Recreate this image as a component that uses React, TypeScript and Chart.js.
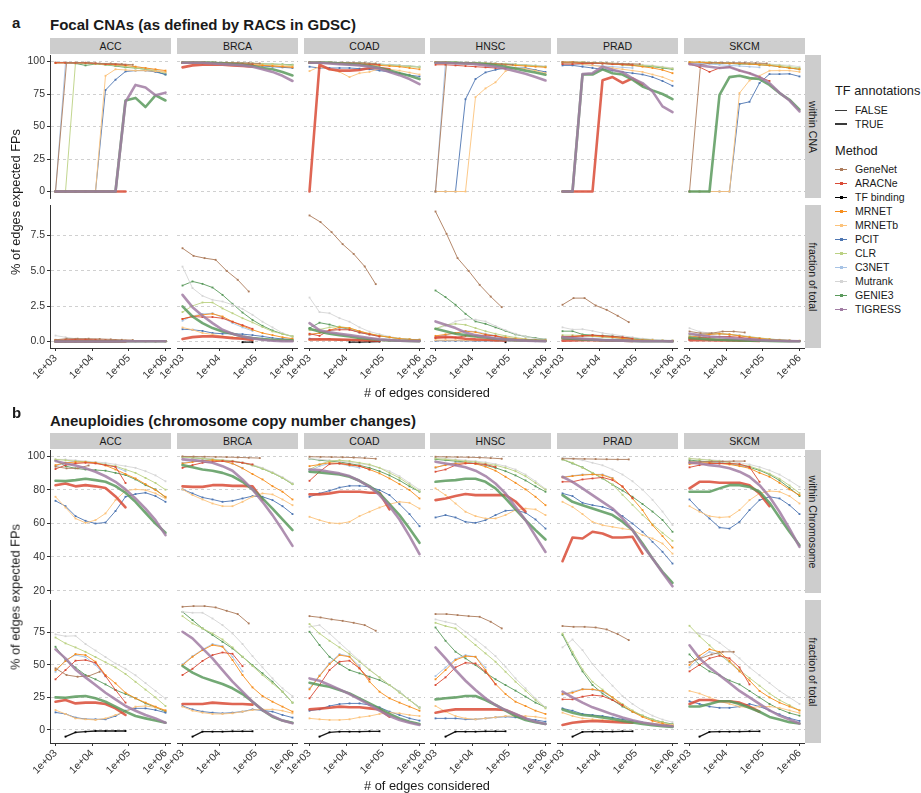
import React, { useEffect, useRef } from 'react';
import { Chart, registerables } from 'chart.js';
Chart.register(...registerables);

type Series = [string, number, (number | null)[]];

// ---------------- data ----------------
const XS = [1000, 1874, 3511, 6579, 12328, 23101, 43288, 81113, 151991, 284804, 533670, 1000000];
const XS_GENENET = [1000, 2000, 4000, 8000, 16000, 32000, 64000, 128000];
const X_TICKS = [1e3, 1e4, 1e5, 1e6];
const CANCERS = ['ACC', 'BRCA', 'COAD', 'HNSC', 'PRAD', 'SKCM'];
const METHODS = ['GeneNet', 'ARACNe', 'TF binding', 'MRNET', 'MRNETb', 'PCIT', 'CLR', 'C3NET', 'Mutrank', 'GENIE3', 'TIGRESS'];
const METHOD_COLORS = ['#AD7C5C', '#D94B36', '#000000', '#F68E1E', '#FCC37C', '#4E76B2', '#BBD183', '#A7C3E5', '#D5D5D5', '#5B9A5D', '#A17CA3'];
const TF_LEVELS = ['FALSE', 'TRUE'];

const A_TICKS_TOP = [0, 25, 50, 75, 100];
const A_TICKS_BOT = [0, 2.5, 5, 7.5];
const B_TICKS_TOP = [20, 40, 60, 80, 100];
const B_TICKS_BOT = [0, 25, 50, 75];

// Panel a, within CNA
const A_TOP_ACC: Series[] = [
  ['TIGRESS', 1, [0, 0, 0, 0, 0, 0, 0, 69, 82, 80, 74, 76]],
  ['GENIE3', 1, [0, 0, 0, 0, 0, 0, 0, 70, 72, 65, 74, 70]],
  ['ARACNe', 1, [0, 0, 0, 0, 0, 0, 0, 0]],
  ['GeneNet', 0, [0, 99, 99, 99, 98.5, 98.5, 98, 97.5]],
  ['ARACNe', 0, [99, 99, 99, 99, 98.5, 98, 98, 97.5]],
  ['MRNET', 0, [99, 99, 99, 99, 98.5, 98, 97.5, 97, 96, 95, 94, 93]],
  ['MRNETb', 0, [0, 0, 0, 0, 0, 89, 94, 93.5, 93, 93, 92.5, 92]],
  ['PCIT', 0, [0, 0, 0, 0, 0, 78, 86, 92.3, 93, 93, 92, 90]],
  ['CLR', 0, [0, 0, 99, 98.5, 98, 97.5, 97, 96, 95, 94, 93, 91]],
  ['C3NET', 0, [0, 99, 99, 99, 98.5, 98, 97, 96.5]],
  ['Mutrank', 0, [99.5, 99.5, 99, 99, 98.5, 98, 97.5, 97, 96, 95, 93.5, 92]],
  ['GENIE3', 0, [99, 99, 98.5, 97, 98, 97.5, 96.5, 95.5, 95, 94, 92.5, 90]],
];
const A_TOP_BRCA: Series[] = [
  ['TIGRESS', 1, [99, 99, 99, 98.5, 98, 97.5, 97, 96, 94, 92, 89, 85]],
  ['GENIE3', 1, [99, 99, 99, 99, 98.5, 98, 97.5, 96.5, 95, 94, 92, 89.3]],
  ['ARACNe', 1, [95.5, 97, 97.5, 97.5, 97.5, 97, 96.5, 96]],
  ['GeneNet', 0, [99.5, 99.5, 99.5, 99.3, 99.2, 99, 98.8, 98.5]],
  ['ARACNe', 0, [99, 99, 99, 99, 98.5, 98.5, 98, 98]],
  ['MRNET', 0, [99, 99, 99, 99, 98.5, 98.5, 98, 97.5, 97, 96.5, 96, 95.5]],
  ['MRNETb', 0, [99, 99, 99, 98.5, 98.5, 98, 98, 97.5, 97, 97, 96.5, 96]],
  ['PCIT', 0, [99, 99, 98.5, 98.5, 98, 98, 97.5, 97, 96.5, 96, 95.5, 95]],
  ['CLR', 0, [99.5, 99.5, 99.5, 99, 99, 99, 98.5, 98.5, 98, 98, 97.5, 97]],
  ['C3NET', 0, [99, 99, 99, 98.5, 98.5, 98, 98, 97.5]],
  ['Mutrank', 0, [99.5, 99.5, 99.5, 99, 99, 99, 98.5, 98.5, 98, 98, 97.5, 97]],
  ['GENIE3', 0, [99.5, 99.5, 99.5, 99.3, 99, 99, 98.8, 98.5, 98.2, 98, 97.8, 97.5]],
];
const A_TOP_COAD: Series[] = [
  ['TIGRESS', 1, [99, 99, 98.5, 98, 97.5, 97, 96, 94.5, 92, 89.5, 86.5, 82.6]],
  ['GENIE3', 1, [99, 99, 99, 98.5, 98, 97.5, 96.5, 95, 93, 91, 89, 86.5]],
  ['ARACNe', 1, [0, 97.5, 94, 93, 93, 93.5, 95, 95, 94]],
  ['GeneNet', 0, [99.5, 99.5, 99.3, 99.2, 99, 98.8, 98.5]],
  ['ARACNe', 0, [99, 99, 99, 98.5, 98.5, 98, 98, 97.5]],
  ['MRNET', 0, [99, 99, 99, 98.5, 98.5, 98, 97.5, 97, 96.5, 96, 95, 94]],
  ['MRNETb', 0, [92.6, 96, 94, 92, 88, 91, 92, 94.5, 94, 93, 91.5, 90]],
  ['PCIT', 0, [96, 95, 95, 95, 95, 94.5, 94, 93, 92, 91, 89.5, 88.5]],
  ['CLR', 0, [99.5, 99.5, 99, 99, 98.5, 98.5, 98, 97.5, 97, 96.5, 96, 95.5]],
  ['C3NET', 0, [99, 99, 99, 98.5, 98, 97.5, 97, 96.5]],
  ['Mutrank', 0, [99.5, 99.5, 99.5, 99, 99, 98.5, 98.5, 98, 97.5, 97, 96.5, 96]],
  ['GENIE3', 0, [99.5, 99.5, 99.5, 99, 99, 99, 98.5, 98, 97.5, 97, 96.5, 96]],
];
const A_TOP_HNSC: Series[] = [
  ['TIGRESS', 1, [99, 99, 98.5, 98.5, 98, 97, 96, 94.5, 92.5, 90.5, 88, 85.4]],
  ['GENIE3', 1, [99, 99, 99, 98.5, 98.5, 98, 97, 96, 94.5, 93, 91.5, 89.8]],
  ['GeneNet', 0, [0, 99, 99, 99, 98.5, 98.5, 98, 97.5]],
  ['ARACNe', 0, [97.5, 97.5, 97, 96.5, 96, 95.5, 95, 94.5]],
  ['MRNET', 0, [99.5, 99.5, 99, 99, 98.5, 98.5, 98, 97.5, 97, 96.5, 96, 95.5]],
  ['MRNETb', 0, [0, 0, 0, 0, 72.6, 79.3, 84, 92.6, 95, 94.5, 93, 91]],
  ['PCIT', 0, [0, 0, 0, 71, 86.5, 91.6, 93.6, 95, 95, 95, 93.5, 92]],
  ['CLR', 0, [99.5, 99.5, 99.5, 99, 99, 98.5, 98.5, 98, 97.5, 97, 96.5, 96]],
  ['C3NET', 0, [0, 99.5, 99, 99, 98.5, 98, 97.5, 97]],
  ['Mutrank', 0, [99.5, 99.5, 99.5, 99.2, 99, 98.8, 98.5, 98, 97.7, 97.3, 97, 96.5]],
  ['GENIE3', 0, [99.5, 99.5, 99.5, 99.2, 99, 98.8, 98.5, 98.2, 97.8, 97.3, 96.8, 96]],
];
const A_TOP_PRAD: Series[] = [
  ['TIGRESS', 1, [0, 0, 90.3, 91, 96, 93.6, 91.8, 87, 83.4, 77, 65.5, 61]],
  ['GENIE3', 1, [0, 0, 90, 90, 94, 91, 90, 86, 80.8, 77.8, 75, 71]],
  ['ARACNe', 1, [0, 0, 0, 0, 85.5, 88, 83.5, 87, 82]],
  ['GeneNet', 0, [99.5, 99.5, 99.3, 99, 98.8, 98.5, 98.2, 98]],
  ['ARACNe', 0, [98, 98, 98.5, 98.5, 98.5, 98, 98, 97.5]],
  ['MRNET', 0, [99.5, 99.5, 99, 99, 98.5, 98, 97.5, 97, 96, 95, 93.5, 91]],
  ['MRNETb', 0, [99, 99, 98, 97, 96, 95, 94, 93, 92, 90, 88, 85]],
  ['PCIT', 0, [97, 97, 96, 95, 94, 93, 92, 91, 90, 88, 85, 81.3]],
  ['CLR', 0, [99.5, 99.5, 99.5, 99, 99, 98.5, 98, 97.5, 97, 96.5, 95.5, 94.5]],
  ['C3NET', 0, [98, 98, 97.5, 97, 96.5, 96, 95.5, 95]],
  ['Mutrank', 0, [99.5, 99.5, 99.5, 99, 99, 98.5, 98.5, 98, 97.5, 97, 96, 95]],
  ['GENIE3', 0, [99, 99, 99, 98.5, 98.5, 98, 97.5, 97, 96.5, 96, 95, 94]],
];
const A_TOP_SKCM: Series[] = [
  ['TIGRESS', 1, [98, 97, 96, 95, 95.7, 93, 91, 88, 83.4, 76, 70, 61.6]],
  ['GENIE3', 1, [0, 0, 0, 74.4, 88, 89, 87.2, 86.5, 82, 75.7, 70.6, 63]],
  ['GeneNet', 0, [0, 97.5, 99, 99, 99, 99, 98.8, 98.5]],
  ['ARACNe', 0, [98.2, 95.7, 92, 95, 95.7, 93, 91, 88, 85]],
  ['MRNET', 0, [99.5, 99.5, 99, 99, 98.5, 98.5, 98, 97.5, 97, 96, 95, 94]],
  ['MRNETb', 0, [0, 0, 0, 0, 0, 75.7, 85.4, 89, 92.9, 93, 93, 92]],
  ['PCIT', 0, [0, 0, 0, 0, 0, 67.3, 69, 83.4, 90.3, 90.3, 90.5, 88.5]],
  ['CLR', 0, [99.5, 99.5, 99.5, 99, 99, 98.5, 98.5, 98, 97.5, 97, 96, 95]],
  ['C3NET', 0, [99, 98.5, 98, 97.5, 97, 96.5, 96, 95.5]],
  ['Mutrank', 0, [99.5, 99.5, 99.5, 99, 99, 99, 98.5, 98.5, 98, 97.5, 97, 96]],
  ['GENIE3', 0, [99, 99, 99, 98.5, 98.5, 98, 98, 97.5, 97, 96, 95, 94]],
];

// Panel a, fraction of total
const A_BOT_ACC: Series[] = [
  ['TIGRESS', 1, [0, 0, 0, 0, 0, 0, 0, 0.02, 0.02, 0.02, 0.02, 0.02]],
  ['GENIE3', 1, [0, 0, 0, 0, 0, 0, 0, 0.02, 0.02, 0.02, 0.02, 0.02]],
  ['ARACNe', 1, [0, 0, 0, 0, 0, 0, 0, 0]],
  ['GeneNet', 0, [0.12, 0.2, 0.2, 0.2, 0.18, 0.15, 0.12, 0.1]],
  ['ARACNe', 0, [0.1, 0.12, 0.15, 0.15, 0.12, 0.1, 0.08, 0.05]],
  ['MRNET', 0, [0.08, 0.08, 0.07, 0.06, 0.05, 0.05, 0.04, 0.03, 0.03, 0.02, 0.02, 0.02]],
  ['MRNETb', 0, [0, 0, 0, 0, 0, 0.03, 0.03, 0.02, 0.02, 0.02, 0.02, 0.02]],
  ['PCIT', 0, [0, 0, 0, 0, 0, 0.02, 0.02, 0.02, 0.02, 0.02, 0.02, 0.02]],
  ['CLR', 0, [0, 0, 0.1, 0.1, 0.08, 0.07, 0.06, 0.05, 0.04, 0.03, 0.02, 0.02]],
  ['C3NET', 0, [0, 0.08, 0.08, 0.07, 0.06, 0.05, 0.04, 0.03]],
  ['Mutrank', 0, [0.42, 0.3, 0.2, 0.15, 0.12, 0.08, 0.06, 0.05, 0.04, 0.03, 0.02, 0.02]],
  ['GENIE3', 0, [0.08, 0.08, 0.1, 0.08, 0.08, 0.06, 0.05, 0.04, 0.03, 0.03, 0.02, 0.02]],
];
const A_BOT_BRCA: Series[] = [
  ['TIGRESS', 1, [3.3, 2.43, 1.82, 1.3, 0.83, 0.55, 0.36, 0.22, 0.12, 0.05, 0.03, 0.02]],
  ['GENIE3', 1, [2.48, 1.77, 1.3, 0.95, 0.71, 0.55, 0.36, 0.25, 0.17, 0.12, 0.1, 0.08]],
  ['ARACNe', 1, [0.17, 0.31, 0.36, 0.36, 0.31, 0.24, 0.2, 0.1]],
  ['GeneNet', 0, [6.6, 6.06, 5.9, 5.78, 5.0, 4.37, 3.54]],
  ['ARACNe', 0, [1.6, 1.77, 1.73, 1.73, 1.64, 1.4, 1.16, 0.9]],
  ['TF binding', 0, [null, null, null, null, null, null, -0.05, -0.05]],
  ['MRNET', 0, [1.6, 1.77, 1.89, 1.96, 1.77, 1.4, 1.1, 0.83, 0.6, 0.45, 0.3, 0.2]],
  ['MRNETb', 0, [0.99, 0.83, 0.6, 0.5, 0.36, 0.3, 0.25, 0.2, 0.17, 0.14, 0.12, 0.1]],
  ['PCIT', 0, [0.87, 0.83, 0.75, 0.6, 0.55, 0.55, 0.52, 0.45, 0.36, 0.25, 0.18, 0.14]],
  ['CLR', 0, [2.08, 2.52, 2.76, 2.76, 2.34, 2.0, 1.65, 1.35, 1.02, 0.71, 0.54, 0.36]],
  ['C3NET', 0, [1.47, 1.8, 1.95, 2.0, 1.7, 1.3, 1.0, 0.75]],
  ['Mutrank', 0, [5.3, 3.78, 3.23, 2.95, 2.83, 2.6, 2.31, 1.89, 1.4, 1.0, 0.6, 0.35]],
  ['GENIE3', 0, [3.96, 4.25, 4.08, 3.82, 3.3, 2.67, 2.05, 1.53, 1.11, 0.78, 0.54, 0.36]],
];
const A_BOT_COAD: Series[] = [
  ['TIGRESS', 1, [1.3, 0.8, 0.65, 0.55, 0.45, 0.35, 0.25, 0.15, 0.1, 0.06, 0.04, 0.03]],
  ['GENIE3', 1, [0.9, 0.7, 0.55, 0.45, 0.35, 0.25, 0.18, 0.12, 0.08, 0.05, 0.04, 0.03]],
  ['ARACNe', 1, [0.14, 0.15, 0.15, 0.13, 0.12, 0.1, 0.08, 0.06]],
  ['GeneNet', 0, [8.92, 8.45, 7.74, 6.89, 6.2, 5.31, 4.06]],
  ['ARACNe', 0, [0.55, 0.4, 0.8, 0.83, 0.83, 0.64, 0.5, 0.35]],
  ['TF binding', 0, [null, null, null, null, -0.05, -0.05, -0.02, 0]],
  ['MRNET', 0, [0.5, 0.6, 0.8, 1.0, 0.95, 0.73, 0.55, 0.4, 0.3, 0.2, 0.15, 0.12]],
  ['MRNETb', 0, [0.12, 0.12, 0.12, 0.1, 0.1, 0.08, 0.07, 0.06, 0.05, 0.05, 0.04, 0.03]],
  ['PCIT', 0, [0.2, 0.15, 0.15, 0.12, 0.1, 0.1, 0.08, 0.07, 0.06, 0.05, 0.04, 0.03]],
  ['CLR', 0, [0.8, 0.85, 1.0, 1.06, 0.95, 0.73, 0.55, 0.42, 0.3, 0.2, 0.15, 0.12]],
  ['C3NET', 0, [0.45, 0.6, 0.75, 0.9, 0.85, 0.65, 0.5, 0.35]],
  ['Mutrank', 0, [3.11, 2.08, 2.0, 1.65, 1.4, 1.0, 0.7, 0.52, 0.35, 0.22, 0.15, 0.14]],
  ['GENIE3', 0, [0.95, 1.33, 1.2, 1.0, 0.87, 0.64, 0.5, 0.4, 0.3, 0.2, 0.15, 0.12]],
];
const A_BOT_HNSC: Series[] = [
  ['TIGRESS', 1, [1.42, 1.18, 0.95, 0.64, 0.45, 0.33, 0.22, 0.15, 0.1, 0.06, 0.04, 0.03]],
  ['GENIE3', 1, [0.9, 0.73, 0.55, 0.45, 0.36, 0.28, 0.2, 0.15, 0.1, 0.07, 0.05, 0.04]],
  ['ARACNe', 1, [0.28, 0.33, 0.28, 0.2, 0.15, 0.12, 0.1, 0.08]],
  ['GeneNet', 0, [9.2, 7.62, 5.9, 5.0, 4.01, 3.18, 2.43]],
  ['ARACNe', 0, [0.24, 0.28, 0.28, 0.4, 0.4, 0.45, 0.4, 0.2]],
  ['TF binding', 0, [null, null, null, null, null, null, null, -0.05]],
  ['MRNET', 0, [0.4, 0.5, 0.6, 0.73, 0.66, 0.5, 0.4, 0.28, 0.2, 0.14, 0.1, 0.08]],
  ['MRNETb', 0, [0.1, 0.1, 0.1, 0.09, 0.08, 0.07, 0.06, 0.05, 0.04, 0.04, 0.03, 0.03]],
  ['PCIT', 0, [0.05, 0.05, 0.05, 0.05, 0.04, 0.04, 0.04, 0.03, 0.03, 0.03, 0.02, 0.02]],
  ['CLR', 0, [0.9, 1.18, 1.25, 1.18, 0.95, 0.73, 0.55, 0.4, 0.28, 0.18, 0.12, 0.1]],
  ['C3NET', 0, [0.35, 0.45, 0.6, 0.75, 0.7, 0.55, 0.42, 0.3]],
  ['Mutrank', 0, [0.9, 1.1, 1.42, 1.58, 1.55, 1.42, 1.1, 0.8, 0.55, 0.35, 0.2, 0.15]],
  ['GENIE3', 0, [3.61, 3.14, 2.6, 1.96, 1.42, 1.25, 1.0, 0.75, 0.5, 0.35, 0.25, 0.15]],
];
const A_BOT_PRAD: Series[] = [
  ['TIGRESS', 1, [0.3, 0.25, 0.2, 0.15, 0.1, 0.08, 0.06, 0.04, 0.03, 0.02, 0.02, 0.01]],
  ['GENIE3', 1, [0.25, 0.2, 0.15, 0.12, 0.1, 0.08, 0.06, 0.04, 0.03, 0.02, 0.02, 0.01]],
  ['ARACNe', 1, [0.05, 0.08, 0.1, 0.1, 0.08, 0.06, 0.05, 0.04]],
  ['GeneNet', 0, [2.6, 3.07, 3.07, 2.55, 2.24, 1.82, 1.37]],
  ['ARACNe', 0, [0.35, 0.35, 0.4, 0.45, 0.4, 0.35, 0.3, 0.2]],
  ['MRNET', 0, [0.3, 0.35, 0.4, 0.4, 0.35, 0.3, 0.22, 0.16, 0.12, 0.08, 0.06, 0.05]],
  ['MRNETb', 0, [0.2, 0.18, 0.15, 0.13, 0.11, 0.09, 0.07, 0.06, 0.05, 0.04, 0.03, 0.03]],
  ['PCIT', 0, [0.15, 0.15, 0.12, 0.1, 0.09, 0.08, 0.07, 0.06, 0.05, 0.04, 0.03, 0.03]],
  ['CLR', 0, [0.45, 0.45, 0.42, 0.38, 0.33, 0.28, 0.22, 0.16, 0.12, 0.08, 0.06, 0.05]],
  ['C3NET', 0, [0.3, 0.32, 0.35, 0.35, 0.3, 0.25, 0.2, 0.15]],
  ['Mutrank', 0, [1.0, 0.85, 0.87, 0.75, 0.6, 0.5, 0.4, 0.3, 0.2, 0.15, 0.1, 0.08]],
  ['GENIE3', 0, [0.73, 0.73, 0.5, 0.45, 0.42, 0.38, 0.3, 0.25, 0.18, 0.12, 0.08, 0.06]],
];
const A_BOT_SKCM: Series[] = [
  ['TIGRESS', 1, [0.55, 0.45, 0.35, 0.3, 0.25, 0.2, 0.15, 0.1, 0.07, 0.05, 0.03, 0.02]],
  ['GENIE3', 1, [0.25, 0.2, 0.15, 0.12, 0.1, 0.08, 0.06, 0.05, 0.04, 0.03, 0.02, 0.02]],
  ['ARACNe', 1, [0.1, 0.1, 0.1, 0.08, 0.07, 0.06, 0.05, 0.04]],
  ['GeneNet', 0, [0.71, 0.59, 0.59, 0.71, 0.71, 0.64]],
  ['ARACNe', 0, [0.2, 0.25, 0.3, 0.35, 0.35, 0.3, 0.2, 0.15]],
  ['MRNET', 0, [0.3, 0.4, 0.5, 0.55, 0.5, 0.4, 0.3, 0.22, 0.15, 0.1, 0.07, 0.05]],
  ['MRNETb', 0, [0.2, 0.2, 0.18, 0.15, 0.12, 0.1, 0.08, 0.07, 0.06, 0.05, 0.04, 0.03]],
  ['PCIT', 0, [0.15, 0.15, 0.12, 0.1, 0.1, 0.08, 0.07, 0.06, 0.05, 0.04, 0.03, 0.03]],
  ['CLR', 0, [0.45, 0.5, 0.55, 0.55, 0.5, 0.42, 0.33, 0.25, 0.18, 0.12, 0.08, 0.05]],
  ['C3NET', 0, [0.3, 0.4, 0.5, 0.55, 0.5, 0.42, 0.3, 0.2]],
  ['Mutrank', 0, [0.94, 0.7, 0.6, 0.55, 0.5, 0.45, 0.35, 0.25, 0.18, 0.12, 0.08, 0.05]],
  ['GENIE3', 0, [0.35, 0.3, 0.2, 0.1, 0.08, 0.1, 0.15, 0.12, 0.1, 0.07, 0.05, 0.04]],
];

// Panel b, within Chromosome
const B_TOP_ACC: Series[] = [
  ['TIGRESS', 1, [97, 95.6, 94.4, 92.7, 90.7, 88, 84.7, 80.2, 74.8, 68.8, 61.9, 53]],
  ['GENIE3', 1, [85.3, 85.1, 85.7, 86.5, 85.7, 84.7, 82.1, 78.2, 72.8, 66.3, 59.9, 54.4]],
  ['ARACNe', 1, [82.7, 83.7, 82, 82.7, 82, 81, 76, 69.5]],
  ['GeneNet', 0, [93.7, 92.7, 92.7, 94.4]],
  ['ARACNe', 0, [92.3, 94.6, 95.6, 96, 95.6, 94.6, 93.6, 84]],
  ['MRNET', 0, [94.6, 96, 96.4, 96.4, 96, 94.4, 92, 89.3, 86.7, 83.3, 79.8, 75.8]],
  ['MRNETb', 0, [75.8, 69.4, 62.9, 60.3, 61.9, 65.9, 73.8, 79.4, 80.2, 79.8, 77.8, 74.8]],
  ['PCIT', 0, [73.4, 70.2, 64.3, 61.5, 59.9, 60.5, 67.3, 75.8, 77.4, 78.2, 76.2, 72.8]],
  ['CLR', 0, [98, 97.5, 97, 96.5, 96, 95, 94, 92, 90, 87, 84, 80]],
  ['C3NET', 0, [94, 96, 97, 96.5, 96, 95, 93.5, 91]],
  ['Mutrank', 0, [98, 98, 97.5, 97, 96.5, 96, 95, 94, 93, 91, 88.5, 85]],
  ['GENIE3', 0, [97.6, 94, 92.7, 92, 91.7, 91.3, 90, 88.7, 86.1, 82.7, 80.2, 75.4]],
];
const B_TOP_BRCA: Series[] = [
  ['TIGRESS', 1, [98, 97.6, 97, 96, 94, 91.3, 86.1, 80.2, 72.8, 64.9, 56, 46.6]],
  ['GENIE3', 1, [94.6, 93.3, 92, 91.3, 90, 88, 84.7, 80.2, 74.8, 68.8, 62.3, 56]],
  ['ARACNe', 1, [82, 81.7, 81.7, 82.7, 82.7, 82.3, 82.3, 82, 74]],
  ['GeneNet', 0, [99.8, 99.7, 99.6, 99.5, 99.4, 99.2, 99, 98.8]],
  ['ARACNe', 0, [93, 94.6, 96, 96.6, 97, 96.8, 96, 95]],
  ['MRNET', 0, [95.6, 96.5, 97.2, 97.6, 97, 95.6, 92.7, 89.3, 86.1, 82.1, 78.8, 74.2]],
  ['MRNETb', 0, [80.2, 76.8, 74.2, 71.8, 70.2, 70.2, 72.8, 75.8, 77.8, 77.2, 74.2, 70.8]],
  ['PCIT', 0, [80.2, 77.8, 75.4, 74.2, 72.8, 73.4, 74.8, 76.2, 75.8, 73.8, 70.2, 65.5]],
  ['CLR', 0, [99.5, 99, 98.5, 98, 97.5, 97, 96, 94.5, 92.5, 90, 87, 83.3]],
  ['C3NET', 0, [96, 96.8, 97.4, 97.6, 97, 95.5, 93]],
  ['Mutrank', 0, [99.5, 99, 98.8, 98.3, 97.8, 97.2, 96.3, 95, 93, 90.5, 87.5, 84]],
  ['GENIE3', 0, [99.5, 99, 98.5, 98, 97.5, 97, 96, 94.5, 92.5, 90, 87, 83.3]],
];
const B_TOP_COAD: Series[] = [
  ['TIGRESS', 1, [92, 91.7, 90.7, 89.7, 88.1, 85.3, 81.7, 76.8, 70.2, 62.3, 52.4, 41.7]],
  ['GENIE3', 1, [90.7, 90.3, 89.7, 89, 87.7, 85.3, 82.1, 77.8, 71.4, 64.9, 56.9, 48.4]],
  ['ARACNe', 1, [77.2, 77.2, 77.8, 78.8, 78.8, 78.8, 78.2, 78.2, 68.3]],
  ['GeneNet', 0, [99.6, 99.5, 99.4, 99.3, 99.1, 98.8, 98.4]],
  ['ARACNe', 0, [85.3, 90.7, 95.2, 95.6, 95, 94, 92]],
  ['MRNET', 0, [94, 95, 96, 95.6, 94.6, 94, 92, 89.7, 86.7, 83.3, 79.8, 74.8]],
  ['MRNETb', 0, [63.9, 61.9, 60.3, 59.9, 60.9, 64.3, 66.9, 69.4, 71.4, 72.8, 72.2, 68.8]],
  ['PCIT', 0, [75.8, 77.8, 79.4, 81.3, 82.3, 82.3, 81.7, 79.8, 76.8, 71.4, 65.5, 58.3]],
  ['CLR', 0, [92, 95, 97, 97.5, 97, 96, 95, 93, 90, 87, 83, 79]],
  ['C3NET', 0, [91, 94, 95.6, 95.4, 94.2, 93]],
  ['Mutrank', 0, [98.5, 98, 97.5, 97, 96.5, 95.5, 94.5, 93, 91, 88, 84, 80]],
  ['GENIE3', 0, [98.4, 97.5, 97, 96.5, 95.5, 94.5, 93, 91, 88.5, 85.5, 82, 78.8]],
];
const B_TOP_HNSC: Series[] = [
  ['TIGRESS', 1, [96.6, 95.6, 94.6, 93.3, 91.3, 88.1, 83.7, 77.8, 69.8, 61.9, 52.4, 43]],
  ['GENIE3', 1, [84.7, 85.3, 85.7, 86.5, 86.5, 84.7, 80.8, 74.8, 68.3, 61.9, 56, 50.4]],
  ['ARACNe', 1, [73.8, 74.8, 76.2, 77.4, 76.8, 76.8, 76.8, 76.8, 73, 67]],
  ['GeneNet', 0, [99.6, 99.5, 99.4, 99.3, 99.1, 98.8, 98.4]],
  ['ARACNe', 0, [90.7, 92, 94.6, 95.6, 95.6, 95, 93.5]],
  ['MRNET', 0, [93.3, 94.6, 95.6, 96, 95.4, 93.7, 91.3, 87.7, 84.1, 80.2, 75.8, 70.8]],
  ['MRNETb', 0, [80.8, 76.8, 71.8, 66.9, 64.3, 62.9, 62.9, 64.9, 67.9, 68.8, 68.3, 64.9]],
  ['PCIT', 0, [63.5, 64.9, 63.5, 60.9, 60.3, 61.9, 64.9, 67.5, 67.9, 66.3, 62.3, 56.9]],
  ['CLR', 0, [98.5, 98, 97.5, 97, 96.5, 95.5, 94.5, 93, 91, 88, 84, 80]],
  ['C3NET', 0, [93, 95, 96, 96.2, 95.6, 94]],
  ['Mutrank', 0, [99, 98.5, 98, 97.5, 97, 96.3, 95.3, 94, 92, 89, 85, 80.5]],
  ['GENIE3', 0, [98, 97.5, 97, 96.5, 95.5, 94.5, 93, 91, 88.5, 85.5, 82, 78.8]],
];
const B_TOP_PRAD: Series[] = [
  ['TIGRESS', 1, [87.7, 84.7, 80.8, 76.8, 72.8, 68.8, 63, 56, 47, 39.1, 30.6, 22.6]],
  ['GENIE3', 1, [76.8, 72.8, 70.8, 68.8, 66.9, 64.9, 61, 56, 48, 39.1, 31.2, 24.6]],
  ['ARACNe', 1, [37.5, 51.6, 51, 55, 54, 51.6, 51.6, 52, 42]],
  ['GeneNet', 0, [98.4, 98.4, 98.3, 98.2, 98.1, 98, 98]],
  ['ARACNe', 0, [84.7, 84.7, 86.1, 86.7, 87.3, 85.7, 82, 75]],
  ['MRNET', 0, [87.3, 88.1, 88.7, 89.1, 88.7, 86.7, 81.7, 74.8, 67.9, 58.9, 52.4, 45.6]],
  ['MRNETb', 0, [72.8, 69.8, 65.5, 60.9, 58.9, 57.9, 56.9, 56, 53, 51, 48, 42]],
  ['PCIT', 0, [77.8, 76.2, 72.2, 70.8, 69.8, 67.9, 64.3, 59.9, 55, 49, 43.1, 36.1]],
  ['CLR', 0, [98, 96, 93, 90, 87, 83, 77, 71, 65, 59.5, 54.4, 49.6]],
  ['C3NET', 0, [87.5, 88.3, 89.1, 89.1, 89.1, 87]],
  ['Mutrank', 0, [99, 98.5, 97.5, 96, 94.5, 92, 89, 85, 80, 74, 67, 59]],
  ['GENIE3', 0, [98, 95.6, 93.3, 90, 86.7, 83, 79.5, 75.8, 71.5, 67, 62, 55]],
];
const B_TOP_SKCM: Series[] = [
  ['TIGRESS', 1, [96, 95.6, 94.6, 94, 92.7, 90.7, 87.7, 82.7, 75.8, 66.9, 56.9, 46]],
  ['GENIE3', 1, [78.8, 78.8, 78.8, 80.8, 82.7, 82.7, 81.7, 78.8, 72.2, 63.5, 55, 47]],
  ['ARACNe', 1, [80.8, 84.7, 84.7, 84.1, 84.1, 84.1, 82.7, 77.8, 70.2]],
  ['GeneNet', 0, [96.6, 96.6, 96.8, 96.8, 97, 97]],
  ['ARACNe', 0, [93.3, 94.6, 95.6, 95.6, 95.6, 95.2, 93.5, 84.7]],
  ['MRNET', 0, [95.2, 96, 96, 95.6, 95, 94, 92.7, 90, 87.7, 84.1, 80.2, 76.8]],
  ['MRNETb', 0, [70.2, 66.9, 64.3, 63.5, 63.9, 67.9, 73.8, 77.8, 79.2, 78.8, 76.2, 71.8]],
  ['PCIT', 0, [74.2, 67.9, 62.9, 57.5, 56.9, 60.9, 67.9, 73.8, 75.8, 74.8, 70.8, 65.5]],
  ['CLR', 0, [98.5, 98, 97.5, 97, 96, 95, 94, 92, 89.5, 86.5, 82.5, 78]],
  ['C3NET', 0, [96, 96.5, 96.5, 96, 95.5, 94.5, 93]],
  ['Mutrank', 0, [98.6, 98.2, 97.8, 97.3, 96.8, 96, 95, 93.5, 91.5, 89, 85.5, 81.7]],
  ['GENIE3', 0, [97.6, 97, 96.5, 96, 95.3, 94.5, 93.3, 91.5, 89, 85.5, 81, 76.2]],
];

// Panel b, fraction of total
const B_BOT_ACC: Series[] = [
  ['TIGRESS', 1, [61.9, 55, 46.5, 40.4, 34.5, 28.6, 23.5, 18.4, 14.8, 11.5, 8.9, 5.6]],
  ['GENIE3', 1, [25, 24.8, 25.6, 26.1, 24.3, 21.7, 17.9, 14.1, 10.7, 8.9, 7.2, 5.6]],
  ['ARACNe', 1, [21.7, 23, 20.4, 21, 21, 19.9, 16.6, 11.5]],
  ['GeneNet', 0, [47.3, 42.2, 40.9, 41.4, 44.7]],
  ['ARACNe', 0, [38.9, 46, 53.2, 53.7, 51.6, 41.4, 30.7, 21]],
  ['TF binding', 0, [null, -5.1, -1.8, -1.3, -0.8, -0.8, -0.8, -0.8]],
  ['MRNET', 0, [46, 52.9, 58.3, 57.5, 52.4, 42.2, 35.8, 28.6, 24.3, 21, 17.9, 14.8]],
  ['MRNETb', 0, [15.3, 12.3, 8.9, 8.2, 7.7, 8.9, 11.5, 14.1, 17.9, 18.4, 17.4, 15.3]],
  ['PCIT', 0, [13.5, 12.3, 9.5, 8.4, 8.2, 8.2, 10.7, 14.8, 16.6, 16.6, 15.3, 13.3]],
  ['CLR', 0, [71, 66.5, 63.4, 60, 56, 52, 48, 43, 37, 31, 25, 18.4]],
  ['C3NET', 0, [44.7, 53.7, 57.5, 56, 50, 41]],
  ['Mutrank', 0, [73.4, 72, 72.3, 66, 61, 56, 51, 47, 42, 36, 30, 24]],
  ['GENIE3', 0, [63.9, 53.7, 48, 42.2, 38.9, 35, 30.7, 27.6, 24.3, 20.4, 17.4, 14.1]],
];
const B_BOT_BRCA: Series[] = [
  ['TIGRESS', 1, [75.4, 70.3, 62.6, 55, 46, 37.1, 29.4, 21.7, 15.3, 10.7, 7.2, 5.1]],
  ['GENIE3', 1, [49.1, 44, 40.4, 37.8, 35.3, 32, 27.6, 21.7, 15.3, 10.2, 7.2, 5.6]],
  ['ARACNe', 1, [19.9, 19.9, 19.9, 21, 20.4, 19.9, 19.9, 19.5]],
  ['GeneNet', 0, [94.6, 95.1, 95.1, 94.1, 91.5, 89, 81.8]],
  ['ARACNe', 0, [42.2, 47, 53, 57.5, 59.5, 58.5, 49]],
  ['TF binding', 0, [null, -5.1, -1.3, -1.3, -1.3, -1, -1, -1]],
  ['MRNET', 0, [49.8, 56.2, 61.3, 65.2, 63.9, 53.7, 42.2, 32.7, 26.1, 21.7, 17.9, 14.1]],
  ['MRNETb', 0, [17.9, 14.8, 13.3, 12.3, 12.3, 12.8, 14.1, 15.3, 15.8, 15.8, 14.8, 12.8]],
  ['PCIT', 0, [18.4, 15.8, 14.1, 13.3, 12.8, 13.3, 14.1, 15.8, 15, 14.1, 11.5, 9.5]],
  ['CLR', 0, [87.4, 81.8, 78, 74.1, 69.5, 63.4, 56.2, 49.1, 42.2, 35.8, 29.4, 21]],
  ['C3NET', 0, [50.6, 56.7, 61.8, 66, 64.4, 56.2, 45]],
  ['Mutrank', 0, [90.7, 90, 90, 85.6, 80.5, 74.1, 66, 56.7, 48.1, 39.6, 32, 26]],
  ['GENIE3', 0, [90.7, 84.4, 78, 72.9, 67.7, 62.6, 56.2, 49.8, 43.5, 37.1, 29.4, 21]],
];
const B_BOT_COAD: Series[] = [
  ['TIGRESS', 1, [39.6, 37.8, 34.5, 31.2, 27.6, 23.5, 19.2, 14.8, 10.7, 7.7, 5.6, 3.8]],
  ['GENIE3', 1, [36.3, 34.5, 33.2, 30.7, 28.1, 24.3, 20.4, 16.6, 12.3, 8.9, 6.4, 4.6]],
  ['ARACNe', 1, [15.8, 16.4, 17.1, 17.9, 17.4, 17.4, 16.6, 15.8, 10.2]],
  ['GeneNet', 0, [87.4, 86.4, 84.9, 83.8, 82.3, 80.5, 76.2]],
  ['ARACNe', 0, [24.3, 34.5, 46, 52.4, 53.2, 47.3, 38.9]],
  ['TF binding', 0, [null, -5.1, -1.8, -1.3, -1.3, -1.3, -1, -1]],
  ['MRNET', 0, [31.2, 41.4, 50.6, 57.5, 56.2, 47.3, 37.1, 29.4, 24.3, 21, 17.9, 14.8]],
  ['MRNETb', 0, [8.9, 8.2, 7.7, 7.7, 8.2, 9.7, 10.7, 12.3, 13.3, 12.8, 11.5, 10.7]],
  ['PCIT', 0, [14.8, 15.8, 18.4, 19.9, 20.4, 20.4, 19.2, 17.4, 14.1, 11.5, 8.9, 7.2]],
  ['CLR', 0, [81.3, 74.1, 68.5, 63.4, 58.3, 52.4, 46, 40.4, 34.5, 28.6, 23, 16.6]],
  ['C3NET', 0, [32, 42, 51.5, 58.3, 56.5, 49]],
  ['Mutrank', 0, [79.2, 80.5, 74.1, 67, 60.1, 53.2, 46.5, 40.4, 34.5, 29.4, 23, 17.4]],
  ['GENIE3', 0, [75.4, 65.2, 56.2, 50.6, 46, 43.5, 40.9, 38.3, 34.5, 29.4, 23, 17.4]],
];
const B_BOT_HNSC: Series[] = [
  ['TIGRESS', 1, [63.4, 55, 46, 37.8, 30.7, 24.3, 19.2, 15.3, 12.3, 8.9, 6.4, 4.6]],
  ['GENIE3', 1, [23.5, 24.3, 25, 26.1, 26.1, 23, 19.2, 14.8, 10.7, 7.7, 5.9, 4.6]],
  ['ARACNe', 1, [13.3, 14.8, 15.8, 15.8, 15.8, 15.8, 15.8, 15.3, 12, 8.9]],
  ['GeneNet', 0, [89, 89, 88.2, 87.4, 86.9, 83.1, 78]],
  ['ARACNe', 0, [34.5, 40.4, 48.1, 51.6, 51.1, 44.7, 35]],
  ['TF binding', 0, [null, -5.1, -1.3, -1.3, -1.3, -1, -1, -1]],
  ['MRNET', 0, [38.9, 46, 53.7, 56.7, 56.2, 46, 35.3, 27.6, 21.7, 18.4, 14.8, 12.3]],
  ['MRNETb', 0, [18.4, 14.1, 10.7, 8.9, 8.2, 8.9, 9.7, 10.7, 10.7, 10.7, 10.2, 8.9]],
  ['PCIT', 0, [8.9, 8.9, 8.9, 8.2, 8.2, 8.9, 9.7, 10.2, 9.7, 8.9, 7.7, 6.4]],
  ['CLR', 0, [82.3, 79.8, 78, 71.6, 65.2, 58.8, 52.4, 44.7, 37.1, 30.2, 23, 16.6]],
  ['C3NET', 0, [41.4, 48, 54.5, 57.5, 56.2, 48]],
  ['Mutrank', 0, [84.9, 83.1, 81.3, 75.4, 69.5, 63.4, 56.7, 48.6, 39.6, 32, 24.3, 17.4]],
  ['GENIE3', 0, [78.7, 68.5, 60.1, 55, 49.8, 44, 38.9, 34.5, 30.2, 25.6, 21, 17.4]],
];
const B_BOT_PRAD: Series[] = [
  ['TIGRESS', 1, [29.4, 25, 21, 17.4, 14.8, 12, 9.5, 7.5, 5.8, 4.5, 3.5, 2.8]],
  ['GENIE3', 1, [15.8, 13.3, 11.5, 10.7, 9.7, 8.5, 7, 5.8, 4.6, 3.6, 2.9, 2.4]],
  ['ARACNe', 1, [3.8, 5.6, 6.4, 6.9, 6.6, 6.2, 5.8, 5.5]],
  ['GeneNet', 0, [79.8, 79.2, 79.2, 78.7, 77.2, 73.6, 69]],
  ['ARACNe', 0, [23.5, 23.5, 25.6, 26.8, 26, 23, 19]],
  ['TF binding', 0, [null, -5.1, -1.5, -1.3, -1.3, -1.2, -1, -1]],
  ['MRNET', 0, [27.6, 28.6, 31.2, 31.2, 30, 25, 19, 14, 10, 7, 5, 3]],
  ['MRNETb', 0, [13.3, 10.7, 8.9, 8.2, 7.7, 7, 6.5, 6, 5.5, 5, 4.5, 4]],
  ['PCIT', 0, [16.6, 14.8, 12.3, 11.5, 10.7, 9.5, 8.2, 7, 5.8, 4.8, 3.8, 3]],
  ['CLR', 0, [74, 60, 46.5, 37, 31, 25, 20, 15, 11, 8, 6, 4]],
  ['C3NET', 0, [27, 29.5, 31.5, 31, 29.5, 25]],
  ['Mutrank', 0, [63.4, 69.5, 61.3, 50.6, 42, 34, 26, 20, 15, 11, 8, 6]],
  ['GENIE3', 0, [73, 58, 45, 34.5, 28, 23, 18, 14, 11, 8, 6, 4.5]],
];
const B_BOT_SKCM: Series[] = [
  ['TIGRESS', 1, [65, 55, 48, 42, 36, 30, 25, 20, 15, 11, 8, 5]],
  ['GENIE3', 1, [18, 18, 20, 22, 22, 20, 17, 14, 10, 8, 6, 5]],
  ['ARACNe', 1, [20, 23, 23, 22, 22, 21, 18, 14]],
  ['GeneNet', 0, [52, 55, 58, 60, 60]],
  ['ARACNe', 0, [45, 50, 55, 57, 55, 48, 35]],
  ['TF binding', 0, [null, -5.1, -1.5, -1.3, -1.3, -1.2, -1, -1]],
  ['MRNET', 0, [50, 57, 62, 60, 53, 45, 38, 30, 25, 21, 18, 15]],
  ['MRNETb', 0, [30, 28, 25, 22, 20, 18, 17, 18, 18, 17, 15, 13]],
  ['PCIT', 0, [22, 20, 18, 17, 17, 18, 20, 18, 15, 12, 9, 7]],
  ['CLR', 0, [80, 72, 65, 58, 52, 46, 40, 34, 28, 23, 19, 15]],
  ['C3NET', 0, [48, 55, 60, 58, 52, 45]],
  ['Mutrank', 0, [75, 74, 72, 67, 61, 55, 48, 42, 36, 30, 25, 20]],
  ['GENIE3', 0, [58, 50, 45, 42, 38, 35, 30, 25, 20, 16, 13, 11]],
];

// ---------------- layout / style ----------------
const FONT = '"Liberation Sans", Arial, Helvetica, sans-serif';
const COL_X = [50, 177, 304, 430, 557, 684];
const COL_W = 121;
const ROW_H = 143;
const PAD_L = 45;
const PAD_B = 44;
const PAD_B_TOP = 8;
const X_MIN = Math.pow(10, 2.85);
const X_MAX = Math.pow(10, 6.15);
const STRIP_BG = '#CDCDCD';
const AXIS_COL = '#333333';

const colorOf = (m: string) => METHOD_COLORS[METHODS.indexOf(m)];
function withAlpha(hex: string, a: number) {
  const n = parseInt(hex.slice(1), 16);
  return `rgba(${(n >> 16) & 255},${(n >> 8) & 255},${n & 255},${a})`;
}

interface FacetProps {
  left: number; top: number; series: Series[];
  yMin: number; yMax: number; yTicks: number[]; yDigits: number;
  showY: boolean; showX: boolean;
}

function Facet(p: FacetProps) {
  const ref = useRef<HTMLCanvasElement | null>(null);
  const bottomPad = p.showX ? PAD_B : PAD_B_TOP;
  const w = PAD_L + COL_W;
  const h = ROW_H + bottomPad;
  useEffect(() => {
    const sorted = [...p.series].sort((a, b) => b[1] - a[1]);
    const datasets = sorted.map(([m, tf, vals]) => {
      const xs = m === 'GeneNet' ? XS_GENENET : XS;
      const pts: { x: number; y: number }[] = [];
      vals.forEach((v, i) => { if (v !== null && v !== undefined) pts.push({ x: xs[i], y: v }); });
      const c = colorOf(m);
      return {
        label: m,
        data: pts,
        borderColor: withAlpha(c, tf ? 0.85 : 0.9),
        backgroundColor: c,
        borderWidth: tf ? 2.6 : (m === 'TF binding' ? 1.3 : 1),
        pointRadius: tf ? 0 : 1.3,
        pointStyle: 'rect' as const,
        pointBackgroundColor: c,
        pointBorderWidth: 0,
        pointHoverRadius: 0,
        tension: 0,
        fill: false,
        borderJoinStyle: 'round' as const,
        borderCapStyle: 'round' as const,
      };
    });
    const chart = new Chart(ref.current as HTMLCanvasElement, {
      type: 'line',
      data: { datasets },
      options: {
        animation: false,
        responsive: false,
        maintainAspectRatio: false,
        events: [],
        layout: { padding: 0, autoPadding: false },
        plugins: { legend: { display: false }, tooltip: { enabled: false } },
        scales: {
          x: {
            type: 'logarithmic',
            bounds: 'data',
            min: X_MIN,
            max: X_MAX,
            display: p.showX,
            afterBuildTicks: (s: any) => { s.ticks = X_TICKS.map((v) => ({ value: v })); },
            afterFit: (s: any) => { s.height = bottomPad; s.paddingLeft = 0; s.paddingRight = 0; },
            ticks: {
              autoSkip: false, minRotation: 45, maxRotation: 45, padding: 1,
              color: AXIS_COL, font: { family: FONT, size: 10.5 },
              callback: (v: any) => '1e+' + String(Math.round(Math.log10(Number(v)))).padStart(2, '0'),
            },
            grid: { display: true, drawOnChartArea: false, drawTicks: true, tickLength: 3, tickColor: AXIS_COL, tickWidth: 1 },
            border: { display: true, color: AXIS_COL, width: 1 },
          },
          y: {
            type: 'linear',
            bounds: 'data',
            min: p.yMin,
            max: p.yMax,
            afterBuildTicks: (s: any) => { s.ticks = p.yTicks.map((v) => ({ value: v })); },
            afterFit: (s: any) => { s.width = PAD_L; s.paddingTop = 0; s.paddingBottom = 0; },
            ticks: {
              display: p.showY, padding: 2, color: AXIS_COL, font: { family: FONT, size: 10.5 },
              callback: (v: any) => Number(v).toFixed(p.yDigits),
            },
            grid: { display: true, drawOnChartArea: true, color: '#C4C4C4', lineWidth: 0.8, drawTicks: p.showY, tickLength: 3, tickColor: AXIS_COL, tickWidth: 1, tickBorderDash: [] },
            border: { display: p.showY, color: AXIS_COL, width: 1, dash: [3, 3] },
          },
        },
      } as any,
    });
    return () => chart.destroy();
  }, []);
  return (
    <canvas
      ref={ref}
      width={w}
      height={h}
      style={{ position: 'absolute', left: p.left - PAD_L, top: p.top, width: w, height: h }}
    />
  );
}

function Txt({ x, y, size, children, bold = false, anchor = 'left', color = '#1A1A1A' }: any) {
  const tx = anchor === 'center' ? 'translateX(-50%)' : 'none';
  return (
    <div style={{
      position: 'absolute', left: x, top: y - size * 0.5, fontSize: size, lineHeight: `${size}px`,
      fontFamily: FONT, fontWeight: bold ? 700 : 400, whiteSpace: 'nowrap', color, transform: tx,
    }}>{children}</div>
  );
}

function VTxt({ x, y, size, children, angle }: any) {
  return (
    <div style={{
      position: 'absolute', left: x, top: y, fontSize: size, lineHeight: `${size}px`, fontFamily: FONT,
      whiteSpace: 'nowrap', color: '#1A1A1A', transform: `translate(-50%, -50%) rotate(${angle}deg)`,
    }}>{children}</div>
  );
}

interface PanelSpec {
  letter: string; title: string; letterTop: number; titleTop: number; stripY: number;
  rowY: number[]; rowLabels: string[]; data: Series[][][];
  y: { min: number; max: number; ticks: number[]; digits: number }[];
  xTitleY: number;
}

const PANELS: PanelSpec[] = [
  {
    letter: 'a', title: 'Focal CNAs (as defined by RACS in GDSC)', letterTop: 22, titleTop: 24.5, stripY: 38,
    rowY: [55, 205], rowLabels: ['within CNA', 'fraction of total'],
    data: [
      [A_TOP_ACC, A_TOP_BRCA, A_TOP_COAD, A_TOP_HNSC, A_TOP_PRAD, A_TOP_SKCM],
      [A_BOT_ACC, A_BOT_BRCA, A_BOT_COAD, A_BOT_HNSC, A_BOT_PRAD, A_BOT_SKCM],
    ],
    y: [
      { min: -5, max: 105, ticks: A_TICKS_TOP, digits: 0 },
      { min: -0.46, max: 9.66, ticks: A_TICKS_BOT, digits: 1 },
    ],
    xTitleY: 393,
  },
  {
    letter: 'b', title: 'Aneuploidies (chromosome copy number changes)', letterTop: 412, titleTop: 420, stripY: 433,
    rowY: [450, 600], rowLabels: ['within Chromosome', 'fraction of total'],
    data: [
      [B_TOP_ACC, B_TOP_BRCA, B_TOP_COAD, B_TOP_HNSC, B_TOP_PRAD, B_TOP_SKCM],
      [B_BOT_ACC, B_BOT_BRCA, B_BOT_COAD, B_BOT_HNSC, B_BOT_PRAD, B_BOT_SKCM],
    ],
    y: [
      { min: 18.6, max: 103.6, ticks: B_TICKS_TOP, digits: 0 },
      { min: -10, max: 99.8, ticks: B_TICKS_BOT, digits: 0 },
    ],
    xTitleY: 786,
  },
];

function Legend() {
  const lx = 835;
  return (
    <>
      <Txt x={lx} y={91.7} size={12.8}>TF annotations</Txt>
      {TF_LEVELS.map((lv, i) => (
        <React.Fragment key={lv}>
          <div style={{ position: 'absolute', left: lx, top: 110.7 + i * 13.5 - (i ? 1 : 0.6), width: 12, height: i ? 2 : 1.2, background: '#3A3A3A' }} />
          <Txt x={855} y={110.7 + i * 13.5} size={10.5}>{lv}</Txt>
        </React.Fragment>
      ))}
      <Txt x={lx} y={151} size={12.8}>Method</Txt>
      {METHODS.map((m, i) => {
        const y = 169.5 + i * 13.95;
        return (
          <React.Fragment key={m}>
            <div style={{ position: 'absolute', left: lx, top: y - 0.5, width: 12, height: 1, background: METHOD_COLORS[i] }} />
            <div style={{ position: 'absolute', left: lx + 4.5, top: y - 1.5, width: 3, height: 3, background: METHOD_COLORS[i] }} />
            <Txt x={855} y={y} size={10.5}>{m}</Txt>
          </React.Fragment>
        );
      })}
    </>
  );
}

export default function App() {
  return (
    <div style={{ position: 'absolute', left: 0, top: 0, width: 921, height: 793, background: '#FFFFFF', overflow: 'hidden' }}>
      {PANELS.map((pn) => (
        <React.Fragment key={pn.letter}>
          <Txt x={12} y={pn.letterTop} size={15} bold>{pn.letter}</Txt>
          <Txt x={50} y={pn.titleTop} size={15} bold>{pn.title}</Txt>
          {CANCERS.map((c, ci) => (
            <div key={c} style={{
              position: 'absolute', left: COL_X[ci], top: pn.stripY, width: COL_W, height: 16, background: STRIP_BG,
              fontFamily: FONT, fontSize: 10.5, lineHeight: '16px', textAlign: 'center', color: '#1A1A1A',
            }}>{c}</div>
          ))}
          {pn.rowY.map((ry, ri) => (
            <div key={ri} style={{ position: 'absolute', left: 805, top: ry, width: 16, height: ROW_H, background: STRIP_BG }}>
              <VTxt x={8} y={ROW_H / 2} size={10.5} angle={90}>{pn.rowLabels[ri]}</VTxt>
            </div>
          ))}
          {pn.rowY.map((ry, ri) =>
            CANCERS.map((c, ci) => (
              <Facet
                key={`${pn.letter}-${ri}-${c}`}
                left={COL_X[ci]} top={ry} series={pn.data[ri][ci]}
                yMin={pn.y[ri].min} yMax={pn.y[ri].max} yTicks={pn.y[ri].ticks} yDigits={pn.y[ri].digits}
                showY={ci === 0} showX={ri === 1}
              />
            ))
          )}
          <VTxt x={16} y={(pn.rowY[0] + pn.rowY[1] + ROW_H) / 2} size={12.8} angle={-90}>% of edges expected FPs</VTxt>
          <Txt x={427} y={pn.xTitleY} size={12.8} anchor="center"># of edges considered</Txt>
        </React.Fragment>
      ))}
      <Legend />
    </div>
  );
}
